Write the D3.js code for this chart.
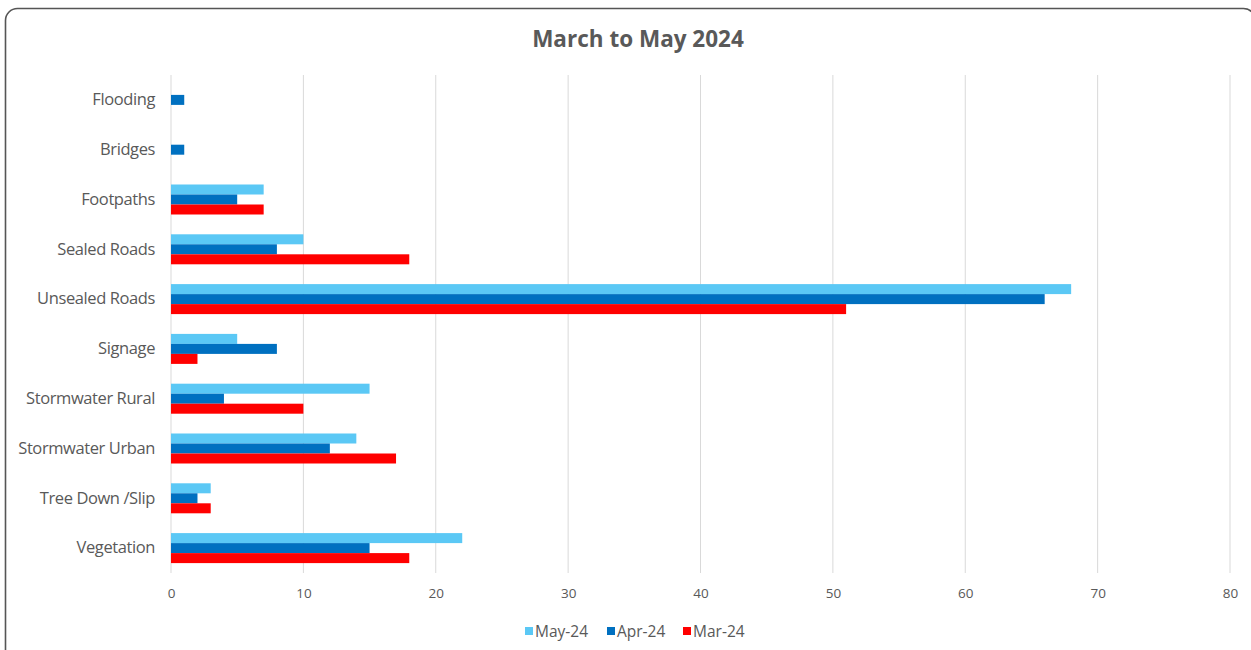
<!DOCTYPE html>
<html>
<head>
    <meta charset="utf-8">
    <style>
        body { margin: 0; background: #fff; }
        svg { display: block; font-family: "Open Sans", Lato, sans-serif; }
        .grid line { stroke: #d9d9d9; stroke-width: 1px; }
        .x .domain, .y .domain { display: none; }
        .x .tick line, .y .tick line { display: none; }
        .x .tick text { font-family: "Open Sans", sans-serif; font-size: 13.5px; fill: #595959; }
        .y .tick text { font-family: "Open Sans", sans-serif; font-size: 16.5px; fill: #595959; letter-spacing: -0.4px; }
    </style>
</head>
<body>
<svg width="1251" height="650"></svg>

<script src="https://d3js.org/d3.v7.min.js"></script>
<script>
    // data
    let categories = ["Flooding", "Bridges", "Footpaths", "Sealed Roads", "Unsealed Roads",
        "Signage", "Stormwater Rural", "Stormwater Urban", "Tree Down /Slip", "Vegetation"]
    let seriesNames = ["May-24", "Apr-24", "Mar-24"]
    let may24 = [0, 0, 7, 10, 68, 5, 15, 14, 3, 22]
    let apr24 = [1, 1, 5, 8, 66, 8, 4, 12, 2, 15]
    let mar24 = [0, 0, 7, 18, 51, 2, 10, 17, 3, 18]
    let xTicks = [0, 10, 20, 30, 40, 50, 60, 70, 80]
    let colors = ["#5bc8f5", "#0070c0", "#ff0000"]

    let seriesValues = [may24, apr24, mar24]

    let svg = d3.select("svg")

    // outer rounded frame
    svg.append("rect")
        .attr("x", 5.5)
        .attr("y", 8.5)
        .attr("width", 1250)
        .attr("height", 660)
        .attr("rx", 12)
        .style("fill", "none")
        .style("stroke", "#555")
        .style("stroke-width", 1.6)

    let margin = { top: 75, bottom: 573, left: 171, right: 1230 }

    let x = d3.scaleLinear()
        .domain([0, 80])
        .range([margin.left, margin.right])

    let y = d3.scaleBand()
        .domain(categories)
        .range([margin.top, margin.bottom])

    let inner = d3.scaleBand()
        .domain(seriesNames)
        .range([0, 30])

    // title
    svg.append("text")
        .attr("x", 638)
        .attr("y", 47)
        .attr("text-anchor", "middle")
        .style("font-size", "22.5px")
        .style("font-weight", "bold")
        .style("fill", "#595959")
        .text("March to May 2024")

    // gridlines
    svg.append("g")
        .attr("class", "grid")
        .selectAll("line")
        .data(xTicks)
        .join("line")
        .attr("x1", d => x(d))
        .attr("x2", d => x(d))
        .attr("y1", margin.top)
        .attr("y2", margin.bottom)

    // x axis
    svg.append("g")
        .attr("class", "x axis")
        .attr("transform", `translate(0,${margin.bottom})`)
        .call(d3.axisBottom(x).tickValues(xTicks).tickSize(0).tickPadding(15))

    // y axis
    svg.append("g")
        .attr("class", "y axis")
        .attr("transform", `translate(${margin.left},0)`)
        .call(d3.axisLeft(y).tickSize(0).tickPadding(16))

    // bars
    let groups = svg.append("g")
        .selectAll("g")
        .data(seriesNames)
        .join("g")
        .style("fill", (d, i) => colors[i])

    groups.selectAll("rect")
        .data((s, i) => seriesValues[i].map((v, j) => ({ series: s, cat: categories[j], value: v })))
        .join("rect")
        .attr("x", x(0))
        .attr("y", d => y(d.cat) + y.bandwidth() / 2 - 15 + inner(d.series))
        .attr("height", inner.bandwidth())
        .attr("width", d => x(d.value) - x(0))

    // legend
    let legendX = [525, 607, 683]
    let legend = svg.append("g")
        .selectAll("g")
        .data(seriesNames)
        .join("g")
        .attr("transform", (d, i) => `translate(${legendX[i]},631)`)

    legend.append("rect")
        .attr("x", 0)
        .attr("y", -4)
        .attr("width", 8)
        .attr("height", 8)
        .style("fill", (d, i) => colors[i])

    legend.append("text")
        .attr("x", 10)
        .attr("y", 5.5)
        .style("font-size", "15.5px")
        .style("fill", "#595959")
        .text(d => d)
</script>
</body>
</html>
